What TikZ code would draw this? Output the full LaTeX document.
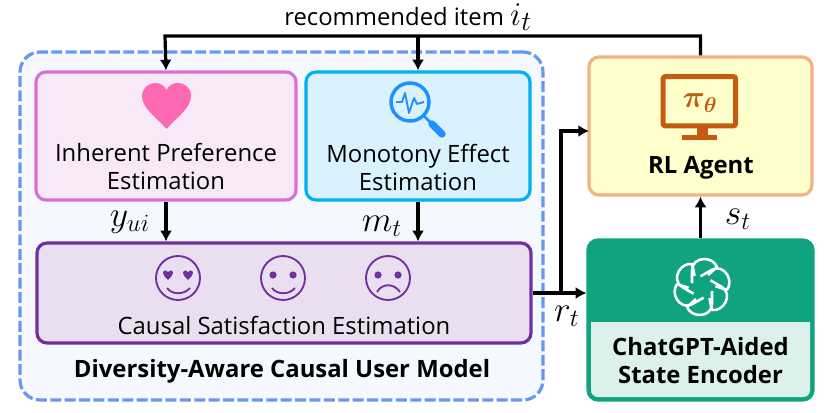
\documentclass[tikz,border=0pt]{standalone}
\usepackage{bm}
\usepackage{fontspec}
\setmainfont{Open Sans}
\usetikzlibrary{arrows.meta}

\definecolor{prefline}{RGB}{218,112,214}
\definecolor{preffill}{RGB}{249,232,248}
\definecolor{monoline}{RGB}{0,176,240}
\definecolor{monofill}{RGB}{217,242,253}
\definecolor{satline}{RGB}{112,48,160}
\definecolor{satfill}{RGB}{234,223,241}
\definecolor{userline}{RGB}{102,153,238}
\definecolor{userfill}{RGB}{245,248,254}
\definecolor{agentline}{RGB}{244,177,131}
\definecolor{agentfill}{RGB}{255,255,204}
\definecolor{encgreen}{RGB}{16,163,127}
\definecolor{enclight}{RGB}{220,241,235}
\definecolor{heartpink}{RGB}{255,105,180}
\definecolor{lensblue}{RGB}{30,144,255}
\definecolor{screenorange}{RGB}{197,90,17}

\tikzset{
  box/.style={draw, rounded corners=7.5pt, line width=2.4pt, inner sep=0pt},
  flow/.style={line width=2.4pt, -{Latex[length=8pt,width=9pt]}},
  plainlabel/.style={font=\fontsize{17.9}{21}\selectfont, align=center, inner sep=0pt},
  boldlabel/.style={font=\fontsize{17.9}{21}\selectfont\bfseries, align=center, inner sep=0pt},
  mathlabel/.style={font=\fontsize{17.28}{20}\selectfont, inner sep=0pt, scale=1.55},
  facering/.style={draw=satline, line width=1.4pt},
}

\newcommand{\smallheart}[2]{
  \fill[satline, shift={(#1,#2)}] (0,5) .. controls (-2,2.5) and (-5,1) .. (-5,-2)
    .. controls (-5,-5) and (-1,-5.5) .. (0,-2.5)
    .. controls (1,-5.5) and (5,-5) .. (5,-2)
    .. controls (5,1) and (2,2.5) .. (0,5) -- cycle;
}

\begin{document}
\begin{tikzpicture}[x=0.75pt, y=-0.75pt]

\useasboundingbox (0,0) rectangle (830,413);

% user model frame
\node[box, draw=userline, fill=userfill, dash pattern=on 8.2pt off 2.6pt, minimum width=392.25pt, minimum height=261pt, rounded corners=15pt] (usermodel) at (281.5,226) {};
\node[boldlabel] (usermodellabel) at (282,371) {Diversity-Aware Causal User Model};

% boxes
\node[box, draw=prefline, fill=preffill, minimum width=195pt, minimum height=96pt] (pref) at (166,136) {};
\node[box, draw=monoline, fill=monofill, minimum width=168pt, minimum height=96pt] (mono) at (418,136) {};
\node[box, draw=satline, fill=satfill, minimum width=370.5pt, minimum height=75pt] (sat) at (284,293) {};
\node[box, draw=agentline, fill=agentfill, minimum width=167.25pt, minimum height=103.5pt] (agent) at (700.5,126) {};
\node[box, draw=encgreen, fill=encgreen, minimum width=168.75pt, minimum height=120pt] (encoder) at (700.5,320) {};

\fill[enclight] (591,322) -- (810,322) [rounded corners=5pt] -- (810,397) -- (591,397) [sharp corners] -- cycle;

\node[plainlabel] (preflabel) at (166,166) {Inherent Preference\\Estimation};
\node[plainlabel] (monolabel) at (418,167) {Monotony Effect\\Estimation};
\node[plainlabel] (satlabel) at (284,325) {Causal Satisfaction Estimation};
\node[boldlabel] (agentlabel) at (701,168) {RL Agent};
\node[boldlabel] (enclabel) at (700.5,361) {ChatGPT-Aided\\State Encoder};

% connectors
\coordinate (topleft) at (165,36);
\coordinate (agentin) at (589,131);
\coordinate (branch) at (561,293);

\draw[flow] (agent.north) |- (topleft) -- (pref.north);
\draw[flow] (mono.north |- topleft) -- (mono.north);
\draw[flow] (pref.south) -- (pref.south |- sat.north);
\draw[flow] (mono.south) -- (mono.south |- sat.north);
\draw[flow] (sat.east) -- (sat.east -| encoder.west);
\draw[flow] (branch) |- (agentin);
\draw[flow] (encoder.north) -- (agent.south);

\node[plainlabel] (recommended) at (408,17) {recommended item \fontsize{24.88}{20}\selectfont $i_t$};
\node[mathlabel] (yui) at (130,222) {$y_{ui}$};
\node[mathlabel] (mt) at (382,226) {$m_t$};
\node[mathlabel] (st) at (738,219) {$s_t$};
\node[mathlabel] (rt) at (567,316) {$r_t$};

% heart
\fill[heartpink] (166.5,129) .. controls (155,116) and (142,108) .. (142,96)
  .. controls (142,88) and (149,83) .. (155,83)
  .. controls (160,83) and (164,85) .. (166.5,90)
  .. controls (169,85) and (173,83) .. (178,83)
  .. controls (185,83) and (191,88) .. (191,96)
  .. controls (191,108) and (178,116) .. (166.5,129) -- cycle;

% magnifier
\draw[lensblue, line width=2.6pt] (410,102) circle (19);
\draw[lensblue, line width=2pt] (424,116) -- (431,123);
\draw[lensblue, line width=5.5pt, line cap=round] (432,124) -- (442,134);
\draw[lensblue, line width=1.4pt, line join=round] (396,102) -- (402,102) -- (405,93) -- (409,113) -- (414,98) -- (417,104) -- (424,102);

% faces
\draw[facering] (178,278) circle (22);
\smallheart{168}{275}
\smallheart{188}{275}
\draw[facering] (167,288) .. controls (172,295) and (184,295) .. (190,288);

\draw[facering] (283,278) circle (22);
\fill[satline] (273,275) circle (3.6);
\fill[satline] (293,275) circle (3.6);
\draw[facering] (272,288) .. controls (277,295) and (289,295) .. (295,288);

\draw[facering] (388,278) circle (22);
\fill[satline] (378,275) circle (3.6);
\fill[satline] (398,275) circle (3.6);
\draw[facering] (377,292) .. controls (382,283) and (394,283) .. (400,292);

% monitor
\draw[screenorange, line width=3.75pt, rounded corners=1.5pt] (663.2,76.7) rectangle (735.5,125.8);
\fill[screenorange] (696.7,128) rectangle (707.7,135);
\fill[screenorange] (681.7,135) rectangle (717.3,140.5);
\node[inner sep=0pt, text=screenorange, font=\fontsize{17.28}{20}\selectfont, scale=1.35] (policy) at (700,103) {$\bm{\pi_\theta}$};

% logo
\foreach \ang in {0,60,...,300}
  \draw[white, line width=1.9pt, line join=round, shift={(702,287)}, rotate=\ang]
    (-10,-4) -- (-10,-17) .. controls (-10,-24) and (-4,-28) .. (2,-28) .. controls (8,-28) and (13,-25) .. (15,-20) -- (6,-12);

\end{tikzpicture}
\end{document}
